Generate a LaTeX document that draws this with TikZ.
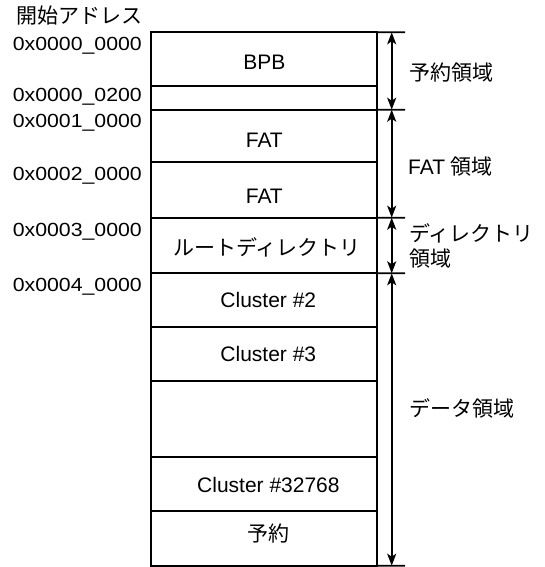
\documentclass[tikz,border=0pt]{standalone}
\usepackage{fontspec}
\setmainfont{Liberation Sans}
\newfontfamily\jp{Noto Sans CJK JP}
\newfontfamily\addrfont[FakeStretch=1.12]{Liberation Sans}
\usetikzlibrary{arrows.meta}
\begin{document}
\begin{tikzpicture}[x=1bp,y=-1bp,
  rowbox/.style={draw=black,line width=1.8bp,minimum width=226bp,inner sep=0pt,outer sep=0pt},
  txt/.style={inner sep=0pt,anchor=base,font=\fontsize{21bp}{25bp}\selectfont},
  rtxt/.style={inner sep=0pt,anchor=base west,font=\fontsize{21bp}{25bp}\selectfont},
  addr/.style={inner sep=0pt,anchor=base east,font=\addrfont\fontsize{19bp}{23bp}\selectfont},
  dbl/.style={line width=1.8bp,{Stealth[length=12bp,width=9bp,inset=3bp]}-{Stealth[length=12bp,width=9bp,inset=3bp]}},
  ext/.style={line width=1.8bp}]
\useasboundingbox (0,0) rectangle (545,567);
% rows
\node[rowbox,minimum height=53.4bp] (r1) at (264,59) {};
\node[rowbox,minimum height=24bp] (r2) at (264,97.7) {};
\node[rowbox,minimum height=52.6bp] (r3) at (264,136) {};
\node[rowbox,minimum height=55.4bp] (r4) at (264,190) {};
\node[rowbox,minimum height=55.6bp] (r5) at (264,245.5) {};
\node[rowbox,minimum height=53.4bp] (r6) at (264,300) {};
\node[rowbox,minimum height=54bp] (r7) at (264,353.7) {};
\node[rowbox,minimum height=76bp] (r8) at (264,418.7) {};
\node[rowbox,minimum height=54.3bp] (r9) at (264,483.85) {};
\node[rowbox,minimum height=54.7bp] (r10) at (264,538.35) {};
% row texts
\node[txt] (tbpb) at (264.3,69.3) {BPB};
\node[txt] (tfat1) at (264.3,148) {FAT};
\node[txt] (tfat2) at (264.3,203) {FAT};
\node[txt] (troot) at (267,255.5) {\jp ルートディレクトリ};
\node[txt] (tc2) at (268.3,307.3) {Cluster \#2};
\node[txt] (tc3) at (268.3,361.5) {Cluster \#3};
\node[txt] (tc32768) at (268.4,492.3) {Cluster \#32768};
\node[txt] (tres) at (268.7,541.5) {\jp 予約};
% header and addresses
\node[txt] (thead) at (79.5,24) {\jp 開始アドレス};
\node[addr] (ad0) at (142,50.7) {0x0000\_0000};
\node[addr] (ad1) at (142,102) {0x0000\_0200};
\node[addr] (ad2) at (142,127.7) {0x0001\_0000};
\node[addr] (ad3) at (142,180.5) {0x0002\_0000};
\node[addr] (ad4) at (142,236) {0x0003\_0000};
\node[addr] (ad5) at (142,291.5) {0x0004\_0000};
% extension lines
\coordinate (e0) at (405,32.3);
\coordinate (e1) at (405,109.7);
\coordinate (e2) at (405,217.7);
\coordinate (e3) at (405,273.3);
\coordinate (e4) at (405,565.7);
\draw[ext] (r1.north east) -- (e0);
\draw[ext] (r3.north east) -- (e1);
\draw[ext] (r5.north east) -- (e2);
\draw[ext] (r6.north east) -- (e3);
\draw[ext] (r10.south east) -- (e4);
% arrows
\coordinate (a0) at (391.7,32.3);
\coordinate (a1) at (391.7,109.7);
\coordinate (a2) at (391.7,217.7);
\coordinate (a3) at (391.7,273.3);
\coordinate (a4) at (391.7,565.7);
\draw[dbl] (a0) -- (a1);
\draw[dbl] (a1) -- (a2);
\draw[dbl] (a2) -- (a3);
\draw[dbl] (a3) -- (a4);
% right labels
\node[rtxt] (l1) at (409.5,80.5) {\jp 予約領域};
\node[rtxt] (l2) at (408,174) {FAT {\jp 領域}};
\node[rtxt] (l3a) at (409,241.5) {\jp ディレクトリ};
\node[rtxt] (l3b) at (409,266) {\jp 領域};
\node[rtxt] (l4) at (409,416) {\jp データ領域};
\end{tikzpicture}
\end{document}
